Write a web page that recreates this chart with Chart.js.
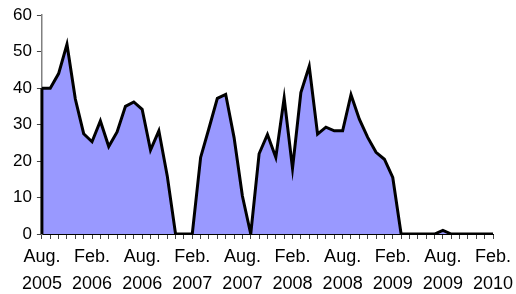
<!DOCTYPE html>
<html>
<head>
<meta charset="utf-8">
<script src="https://cdn.jsdelivr.net/npm/chart.js@4/dist/chart.umd.min.js"></script>
<style>
  html, body { margin: 0; padding: 0; background: #fff; }
  #wrap { width: 516px; height: 294px; }
</style>
</head>
<body>
<div id="wrap"><canvas id="c" width="516" height="294"></canvas></div>
<script>
const months = ["Aug.","Sep.","Oct.","Nov.","Dec.","Jan.","Feb.","Mar.","Apr.","May","Jun.","Jul."];
const categories = [];
for (let y = 2005, m = 0, n = 0; n < 55; n++) {
  categories.push([months[m], String(y)]);
  m++; if (m === 5) { y++; } if (m === 12) { m = 0; }
}
const values = [
  40, 40, 44, 52, 37, 27.5, 25.3, 31, 24, 28, 35, 36.2,
  34.2, 23, 28.3, 16, 0, 0, 0, 21, 29, 37.2, 38.3, 26.5,
  10.4, 0, 22, 27.3, 21, 37.3, 18, 38.8, 46, 27.4, 29.3, 28.3,
  28.3, 38.2, 31.5, 26.5, 22.4, 20.5, 15.5, 0, 0, 0, 0, 0,
  1, 0, 0, 0, 0, 0, 0
];
const yTicks = [0, 10, 20, 30, 40, 50, 60];

const leftEdge = {
  id: 'leftEdge',
  afterDatasetsDraw(chart) {
    const x = chart.scales.x, y = chart.scales.y, ctx = chart.ctx;
    ctx.save();
    ctx.strokeStyle = '#000';
    ctx.lineWidth = 3;
    ctx.beginPath();
    ctx.moveTo(x.getPixelForValue(0), y.getPixelForValue(values[0]));
    ctx.lineTo(x.getPixelForValue(0), y.getPixelForValue(0));
    ctx.stroke();
    ctx.restore();
  }
};

new Chart(document.getElementById('c'), {
  type: 'line',
  data: {
    labels: categories,
    datasets: [{
      data: values,
      fill: 'origin',
      backgroundColor: '#9999FF',
      borderColor: '#000',
      borderWidth: 3,
      pointRadius: 0,
      tension: 0,
      borderJoinStyle: 'miter'
    }]
  },
  options: {
    responsive: false,
    animation: false,
    layout: { padding: { top: 10, right: 0, left: 8, bottom: 0 } },
    plugins: { legend: { display: false }, tooltip: { enabled: false } },
    scales: {
      x: {
        type: 'category',
        offset: false,
        afterFit: (s) => { s.height = 60; s.paddingRight = 23; },
        grid: { drawOnChartArea: false, drawTicks: true, tickLength: 5, color: '#444', lineWidth: 1 },
        border: { color: '#000', width: 1 },
        ticks: {
          autoSkip: false, maxRotation: 0, minRotation: 0,
          color: '#000', padding: 5,
          font: { family: 'Liberation Sans', size: 18, lineHeight: 1.5 },
          callback: function (v, i) { return i % 6 === 0 ? categories[i] : ''; }
        }
      },
      y: {
        min: 0, max: 60,
        afterBuildTicks: (s) => { s.ticks = yTicks.map(v => ({ value: v })); },
        grid: { drawOnChartArea: false, drawTicks: true, tickLength: 5, color: '#444' },
        border: { color: '#808080', width: 1.5 },
        ticks: {
          color: '#000', padding: 5,
          font: { family: 'Liberation Sans', size: 17 }
        }
      }
    }
  },
  plugins: [leftEdge]
});
</script>
</body>
</html>
